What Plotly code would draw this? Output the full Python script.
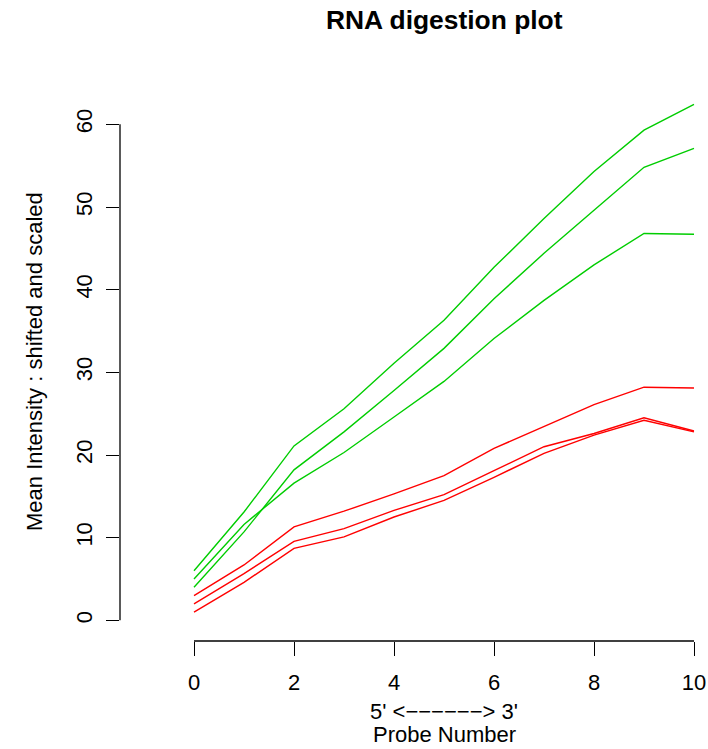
import plotly.graph_objects as go

# ---- data ----
probe_number = [0, 1, 2, 3, 4, 5, 6, 7, 8, 9, 10]

green_a = [6.0, 13.1, 21.1, 25.6, 31.1, 36.3, 42.7, 48.6, 54.3, 59.3, 62.4]
green_b = [5.0, 11.6, 16.6, 20.3, 24.6, 28.9, 34.1, 38.7, 43.0, 46.8, 46.7]
green_c = [4.0, 10.7, 18.2, 22.8, 27.8, 32.9, 38.9, 44.4, 49.6, 54.8, 57.1]
red_a = [3.0, 6.7, 11.3, 13.2, 15.3, 17.5, 20.8, 23.5, 26.1, 28.2, 28.1]
red_b = [2.0, 5.65, 9.56, 11.1, 13.3, 15.2, 18.1, 21.0, 22.6, 24.5, 22.9]
red_c = [1.0, 4.6, 8.7, 10.1, 12.5, 14.5, 17.3, 20.2, 22.4, 24.2, 22.8]

series = [
    ("red_c", red_c, "#FF0000"),
    ("red_b", red_b, "#FF0000"),
    ("red_a", red_a, "#FF0000"),
    ("green_c", green_c, "#00CD00"),
    ("green_b", green_b, "#00CD00"),
    ("green_a", green_a, "#00CD00"),
]

x_ticks = [0, 2, 4, 6, 8, 10]
y_ticks = [0, 10, 20, 30, 40, 50, 60]

title_text = "RNA digestion plot"
xlab_line1 = "5' <\u2212\u2212\u2212\u2212\u2212\u2212> 3'"
xlab_line2 = "Probe Number"
ylab_text = "Mean Intensity : shifted and scaled"

FONT = "Liberation Sans, Arial, Helvetica, sans-serif"
FS = 22

fig = go.Figure()
for name, vals, col in series:
    fig.add_trace(go.Scatter(x=probe_number, y=vals, mode="lines", name=name,
                             line=dict(color=col, width=1.4), showlegend=False,
                             hoverinfo="skip"))

fig.update_layout(
    width=708, height=749,
    margin=dict(l=120, r=0, t=83, b=108, pad=0),
    paper_bgcolor="white", plot_bgcolor="white",
    font=dict(family=FONT, size=FS, color="black"),
    showlegend=False,
    xaxis=dict(range=[-1.48, 10.28], tickvals=x_ticks, ticktext=[str(v) for v in x_ticks],
               ticks="outside", ticklen=14, tickwidth=1.3, tickcolor="black",
               ticklabelstandoff=8,
               showgrid=False, zeroline=False, showline=False,
               tickfont=dict(family=FONT, size=FS, color="black")),
    yaxis=dict(range=[-2.5, 65], tickvals=y_ticks, ticktext=[str(v) for v in y_ticks],
               ticks="outside", ticklen=13, tickwidth=1.3, tickcolor="black",
               tickangle=-90, ticklabelstandoff=5,
               showgrid=False, zeroline=False, showline=False,
               tickfont=dict(family=FONT, size=FS, color="black")),
    shapes=[
        dict(type="line", xref="x", yref="paper", x0=x_ticks[0], x1=x_ticks[-1], y0=0, y1=0,
             line=dict(color="black", width=1.3)),
        dict(type="line", xref="paper", yref="y", x0=0, x1=0, y0=y_ticks[0], y1=y_ticks[-1],
             line=dict(color="black", width=1.3)),
    ],
    annotations=[
        dict(text="<b>" + title_text + "</b>", xref="x", yref="paper", x=5, y=1,
             yanchor="middle", xanchor="center", yshift=63, showarrow=False,
             font=dict(family=FONT, size=26.4, color="black")),
        dict(text=xlab_line1, xref="x", yref="paper", x=5, y=0, yanchor="middle",
             xanchor="center", yshift=-70, showarrow=False,
             font=dict(family=FONT, size=FS, color="black")),
        dict(text=xlab_line2, xref="x", yref="paper", x=5, y=0, yanchor="bottom",
             xanchor="center", yshift=-108, showarrow=False,
             font=dict(family=FONT, size=FS, color="black")),
        dict(text=ylab_text, xref="paper", yref="paper", x=0, y=0.5, xanchor="center",
             yanchor="middle", xshift=-86, textangle=-90, showarrow=False,
             font=dict(family=FONT, size=FS, color="black")),
    ],
)

fig.write_html("out.html")
